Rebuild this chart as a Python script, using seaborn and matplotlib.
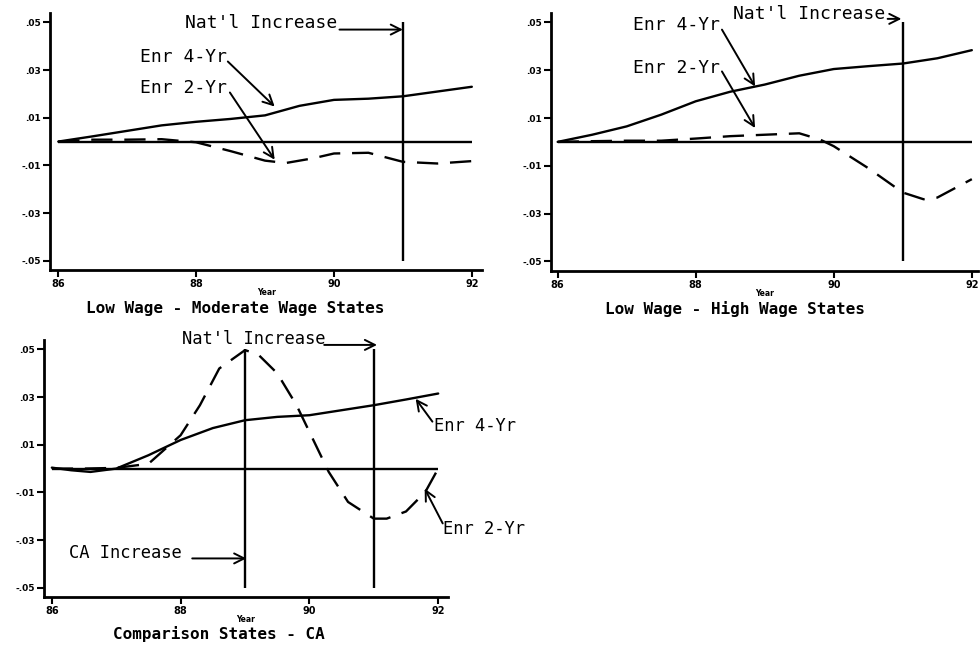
import numpy as np
import pandas as pd
import matplotlib
matplotlib.use("Agg")
import matplotlib.pyplot as plt
import seaborn as sns

sns.set_style("ticks")
plt.rcParams['font.family'] = ['DejaVu Sans Mono', 'DejaVu Sans']
plt.rcParams['text.color'] = 'black'
plt.rcParams['axes.labelcolor'] = 'black'
plt.rcParams['xtick.color'] = 'black'
plt.rcParams['ytick.color'] = 'black'

# ---- data ----
yr_a = [86.0, 86.5, 87.0, 87.5, 88.0, 88.5, 89.0, 89.5, 90.0, 90.5, 91.0, 91.5, 92.0]

# Panel 1: Low Wage - Moderate Wage States
p1_4yr = [0.0, 0.0022, 0.0045, 0.0068, 0.0083, 0.0095, 0.011, 0.015, 0.0175, 0.018, 0.019, 0.021, 0.023]
p1_2yr_x = [86.0, 86.5, 87.0, 87.5, 88.0, 88.5, 89.0, 89.3, 89.7, 90.0, 90.5, 91.0, 91.5, 92.0]
p1_2yr = [0.0, 0.0008, 0.0008, 0.001, -0.0003, -0.004, -0.008, -0.009, -0.007, -0.005, -0.0047, -0.0085, -0.0092, -0.0082]

# Panel 2: Low Wage - High Wage States
p2_4yr = [0.0, 0.003, 0.0065, 0.0114, 0.017, 0.021, 0.024, 0.0277, 0.0305, 0.0317, 0.0328, 0.035, 0.0384]
p2_2yr_x = [86.0, 86.5, 87.0, 87.5, 88.0, 88.5, 89.0, 89.5, 89.8, 90.0, 90.5, 91.0, 91.3, 91.5, 92.0]
p2_2yr = [0.0, 0.0003, 0.0005, 0.0005, 0.0014, 0.0024, 0.003, 0.0036, 0.001, -0.0018, -0.011, -0.0212, -0.024, -0.0233, -0.0156]

# Panel 3: Comparison States - CA
p3_4yr_x = [86.0, 86.3, 86.6, 87.0, 87.5, 88.0, 88.5, 89.0, 89.5, 90.0, 90.5, 91.0, 91.5, 92.0]
p3_4yr = [0.0004, -0.0007, -0.0014, 0.0, 0.0056, 0.012, 0.017, 0.0203, 0.0217, 0.0224, 0.0245, 0.0266, 0.029, 0.0315]
p3_2yr_x = [86.0, 86.5, 87.0, 87.5, 88.0, 88.3, 88.6, 89.0, 89.2, 89.5, 89.8, 90.0, 90.3, 90.6, 91.0, 91.2, 91.5, 91.8, 92.0]
p3_2yr = [0.0, 0.0, 0.0003, 0.002, 0.014, 0.0266, 0.042, 0.0497, 0.048, 0.040, 0.0266, 0.0154, -0.0014, -0.014, -0.021, -0.021, -0.018, -0.0098, 0.0]

xticks = [86, 88, 90, 92]
xtick_labels = ["86", "88", "90", "92"]
yticks = [0.05, 0.03, 0.01, -0.01, -0.03, -0.05]
ytick_labels = [".05", ".03", ".01", "-.01", "-.03", "-.05"]
titles = ["Low Wage - Moderate Wage States", "Low Wage - High Wage States", "Comparison States - CA"]

fig = plt.figure(figsize=(9.8, 6.45), dpi=100)
ax1 = fig.add_axes([0.051, 0.581, 0.441, 0.399])
ax2 = fig.add_axes([0.562, 0.580, 0.436, 0.400])
ax3 = fig.add_axes([0.045, 0.074, 0.412, 0.399])

DASH = (0, (9, 5))
LW = 1.7


def draw(ax, x4, y4, x2, y2):
    sns.lineplot(x=x4, y=y4, ax=ax, color="black", lw=LW, estimator=None, sort=False)
    sns.lineplot(x=x2, y=y2, ax=ax, color="black", lw=LW, linestyle=DASH, estimator=None, sort=False)
    ax.hlines(0, 86, 92, color="black", lw=LW)
    ax.set_xlim(85.88, 92.15)
    ax.set_ylim(-0.054, 0.054)
    ax.set_xticks(xticks)
    ax.set_xticklabels(xtick_labels, fontsize=7, fontweight="bold", family="DejaVu Sans")
    ax.set_yticks(yticks)
    ax.set_yticklabels(ytick_labels, fontsize=6.5, fontweight="bold", family="DejaVu Sans")
    ax.tick_params(direction="out", length=5, width=1.5, pad=1.5, colors="black")
    for s in ["top", "right"]:
        ax.spines[s].set_visible(False)
    for s in ["left", "bottom"]:
        ax.spines[s].set_linewidth(2)
        ax.spines[s].set_color("black")
    ax.set_xlabel("Year", fontsize=5.5, fontweight="bold", family="DejaVu Sans", labelpad=-1)
    ax.set_ylabel("")


draw(ax1, yr_a, p1_4yr, p1_2yr_x, p1_2yr)
draw(ax2, yr_a, p2_4yr, p2_2yr_x, p2_2yr)
draw(ax3, p3_4yr_x, p3_4yr, p3_2yr_x, p3_2yr)
ax2.set_xlim(85.9, 92.09)

TFS = 13
arrow = dict(arrowstyle="->", color="black", lw=1.4, mutation_scale=18, shrinkA=0, shrinkB=0)

# Panel 1 annotations
ax1.vlines(91, -0.05, 0.05, color="black", lw=LW)
ax1.text(87.84, 0.0496, "Nat'l Increase", fontsize=TFS, va="center", ha="left")
ax1.annotate("", xy=(91.0, 0.047), xytext=(90.08, 0.047), arrowprops=arrow)
ax1.text(87.19, 0.0353, "Enr 4-Yr", fontsize=TFS, va="center", ha="left")
ax1.annotate("", xy=(89.14, 0.0147), xytext=(88.46, 0.0336), arrowprops=arrow)
ax1.text(87.19, 0.0223, "Enr 2-Yr", fontsize=TFS, va="center", ha="left")
ax1.annotate("", xy=(89.14, -0.0076), xytext=(88.49, 0.0206), arrowprops=arrow)

# Panel 2 annotations
ax2.vlines(91, -0.05, 0.05, color="black", lw=LW)
ax2.text(88.54, 0.0535, "Nat'l Increase", fontsize=TFS, va="center", ha="left", clip_on=False)
ax2.annotate("", xy=(90.98, 0.0515), xytext=(90.78, 0.0515), arrowprops=arrow, annotation_clip=False)
ax2.text(87.09, 0.049, "Enr 4-Yr", fontsize=TFS, va="center", ha="left")
ax2.annotate("", xy=(88.86, 0.0232), xytext=(88.38, 0.047), arrowprops=arrow)
ax2.text(87.09, 0.031, "Enr 2-Yr", fontsize=TFS, va="center", ha="left")
ax2.annotate("", xy=(88.86, 0.0058), xytext=(88.38, 0.0295), arrowprops=arrow)

# Panel 3 annotations
ax3.vlines([89, 91], -0.05, 0.05, color="black", lw=LW)
ax3.text(88.02, 0.0544, "Nat'l Increase", fontsize=12.3, va="center", ha="left", clip_on=False)
ax3.annotate("", xy=(91.05, 0.0519), xytext=(90.23, 0.0519), arrowprops=arrow, annotation_clip=False)
ax3.text(86.26, -0.0356, "CA Increase", fontsize=12.3, va="center", ha="left")
ax3.annotate("", xy=(89.02, -0.0377), xytext=(88.18, -0.0377), arrowprops=arrow)
ax3.text(91.93, 0.018, "Enr 4-Yr", fontsize=12.3, va="center", ha="left", clip_on=False)
ax3.annotate("", xy=(91.65, 0.0293), xytext=(91.91, 0.0197), arrowprops=arrow, annotation_clip=False)
ax3.text(92.08, -0.0255, "Enr 2-Yr", fontsize=12.3, va="center", ha="left", clip_on=False)
ax3.annotate("", xy=(91.79, -0.0084), xytext=(92.07, -0.023), arrowprops=arrow, annotation_clip=False)

# Panel captions
fig.text(235 / 980, 1 - 308 / 645, titles[0], fontsize=11.5, fontweight="bold", ha="center", va="center")
fig.text(735 / 980, 1 - 309 / 645, titles[1], fontsize=11.5, fontweight="bold", ha="center", va="center")
fig.text(219 / 980, 1 - 634 / 645, titles[2], fontsize=11.5, fontweight="bold", ha="center", va="center")

fig.savefig("out.png", dpi=100, facecolor="white")
